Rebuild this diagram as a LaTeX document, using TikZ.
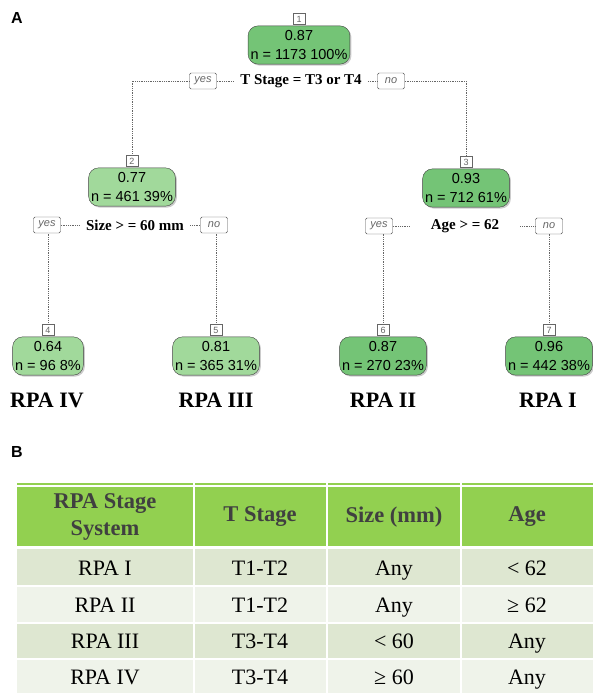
\documentclass[tikz,border=0pt]{standalone}
\usepackage{fontspec}
\setmainfont{Liberation Serif}
\setsansfont{Liberation Sans}
\usepackage{tikz}
\usetikzlibrary{shadows,positioning}
\definecolor{TreeDark}{HTML}{74C476}
\definecolor{TreeLight}{HTML}{A1D99B}
\definecolor{HeadGreen}{HTML}{92D050}
\definecolor{HeadText}{HTML}{404040}
\definecolor{RowDark}{HTML}{DEE7D1}
\definecolor{RowLight}{HTML}{EFF3EA}

\begin{document}
\begin{tikzpicture}[x=1pt,y=-1pt,
  treenode/.style={draw=black!75,fill=#1,rounded corners=10pt,align=center,
    font=\sffamily\fontsize{14.5}{19}\selectfont,inner xsep=2.5pt,inner ysep=4.5pt,
    drop shadow={shadow xshift=1.5pt,shadow yshift=-1.5pt,fill=black!40}},
  nodetag/.style={draw=black!60,fill=white,text=black!60,inner sep=1.5pt,
    font=\sffamily\fontsize{9}{9}\selectfont,minimum width=12pt,minimum height=11pt},
  ynbox/.style={draw=black!70,rounded corners=1.5pt,text=black!60,inner sep=1pt,
    font=\sffamily\itshape\fontsize{11}{11}\selectfont,minimum width=27pt,minimum height=16pt},
  splitlab/.style={font=\bfseries\fontsize{15}{15}\selectfont,inner xsep=6pt},
  rpalab/.style={font=\bfseries\fontsize{22}{22}\selectfont},
  dotlink/.style={black!60,thin,dash pattern=on 0.7pt off 1.1pt},
  headtxt/.style={text=HeadText,align=center,font=\bfseries\fontsize{22.5}{27}\selectfont},
  celltxt/.style={anchor=base,font=\fontsize{22}{22}\selectfont},
  panel/.style={font=\sffamily\bfseries\fontsize{16}{16}\selectfont}]
  \useasboundingbox (0,0) rectangle (593,693);

  % panel A: tree
  \node[panel] (pa) at (17,18) {A};
  \node[treenode=TreeDark] (n1) at (299,45) {0.87\\n = 1173 100\%};
  \node[treenode=TreeLight] (n2) at (132,187) {0.77\\n = 461 39\%};
  \node[treenode=TreeDark] (n3) at (466,188) {0.93\\n = 712 61\%};
  \node[treenode=TreeLight] (n4) at (48,356) {0.64\\n = 96 8\%};
  \node[treenode=TreeLight] (n5) at (216,356) {0.81\\n = 365 31\%};
  \node[treenode=TreeDark] (n6) at (383,356) {0.87\\n = 270 23\%};
  \node[treenode=TreeDark] (n7) at (549,356) {0.96\\n = 442 38\%};
  \foreach \i in {1,...,7}
    \node[nodetag,anchor=south] (t\i) at ([yshift=1pt]n\i.north) {\i};

  % splits
  \node[ynbox] (y1) at (203,81) {yes};
  \node[splitlab] (s1) at (301,81) {T Stage = T3 or T4};
  \node[ynbox] (o1) at (391,81) {no};
  \node[ynbox] (y2) at (47,225) {yes};
  \node[splitlab] (s2) at (135,225) {Size > = 60 mm};
  \node[ynbox] (o2) at (214,225) {no};
  \node[ynbox] (y3) at (379,226) {yes};
  \node[splitlab,minimum width=110pt] (s3) at (465,226) {Age > = 62};
  \node[ynbox] (o3) at (549,226) {no};

  \draw[dotlink] (t2.north) |- (y1.west) (y1.east) -- (s1.west)
    (s1.east) -- (o1.west) (o1.east) -| (t3.north);
  \draw[dotlink] (y2.east) -- (s2.west) (s2.east) -- (o2.west)
    (t4.north) -- (t4.north |- y2.south) (t5.north) -- (t5.north |- o2.south);
  \draw[dotlink] (y3.east) -- (s3.west) (s3.east) -- (o3.west)
    (t6.north) -- (t6.north |- y3.south) (t7.north) -- (t7.north |- o3.south);

  \node[rpalab] (r4) at (47,400) {RPA IV};
  \node[rpalab] (r3) at (216,400) {RPA III};
  \node[rpalab] (r2) at (383,400) {RPA II};
  \node[rpalab] (r1) at (548,400) {RPA I};

  % panel B: table
  \node[panel] (pb) at (17,452) {B};
  \fill[HeadGreen] (17,483) rectangle (593,546);
  \draw[white,line width=1.2pt] (17,486) -- (593,486);
  \foreach \top/\bot/\col in {549/585/RowDark,586.5/622/RowLight,
      623.5/658/RowDark,659.5/693/RowLight}
    \fill[\col] (17,\top) rectangle (593,\bot);
  \foreach \x in {193.5,327,461}
    \draw[white,line width=2pt] (\x,483) -- (\x,693);

  \node[headtxt] (h1) at (105,517) {RPA Stage\\System};
  \node[headtxt] (h2) at (260,517) {T Stage};
  \node[headtxt] (h3) at (394,517) {Size (mm)};
  \node[headtxt] (h4) at (527,517) {Age};
  \foreach \i/\y/\a/\b/\c/\d in {1/575/RPA I/T1-T2/Any/< 62,
      2/612/RPA II/T1-T2/Any/≥ 62,
      3/648/RPA III/T3-T4/< 60/Any,
      4/684/RPA IV/T3-T4/≥ 60/Any}{
    \node[celltxt] (a\i) at (105,\y) {\a};
    \node[celltxt] (b\i) at (260,\y) {\b};
    \node[celltxt] (c\i) at (394,\y) {\c};
    \node[celltxt] (d\i) at (527,\y) {\d};
  }
\end{tikzpicture}
\end{document}
